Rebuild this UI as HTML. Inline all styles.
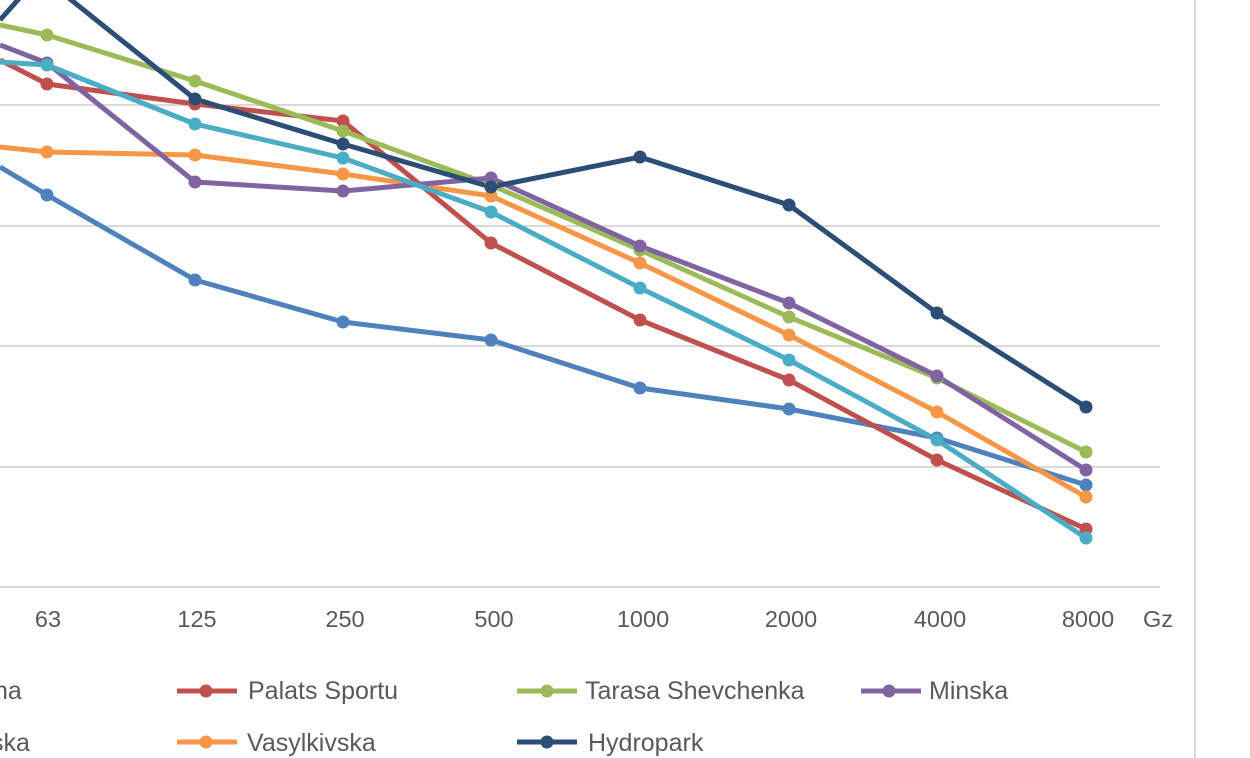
<!DOCTYPE html>
<html><head><meta charset="utf-8"><style>
html,body{margin:0;padding:0;background:#fff;}
svg{display:block;font-family:"Liberation Sans",sans-serif;}
</style></head><body>
<svg width="1250" height="758" viewBox="0 0 1250 758" xmlns="http://www.w3.org/2000/svg">
<rect width="1250" height="758" fill="#fff"/>
<line x1="1195" y1="0" x2="1195" y2="758" stroke="#d9d9d9" stroke-width="2"/>
<g stroke="#d9d9d9" stroke-width="2">
<line x1="0" y1="105" x2="1160" y2="105"/>
<line x1="0" y1="226" x2="1160" y2="226"/>
<line x1="0" y1="346" x2="1160" y2="346"/>
<line x1="0" y1="467" x2="1160" y2="467"/>
<line x1="0" y1="587" x2="1160" y2="587"/>
</g>
<g font-size="23.5" fill="#595959" text-anchor="middle">
<text x="48" y="627">63</text><text x="197" y="627">125</text><text x="345" y="627">250</text><text x="494" y="627">500</text><text x="643" y="627">1000</text><text x="791" y="627">2000</text><text x="940" y="627">4000</text><text x="1088" y="627">8000</text><text x="1158" y="627">Gz</text>
</g>
<g fill="none" stroke-width="5" stroke-linejoin="round">
<polyline stroke="#4F81BD" points="0,167 47,195 195,280 343,322 491,340 640,388 789,409 937,438 1086,485"/>
<polyline stroke="#F79646" points="0,147 47,152 195,155 343,174 491,196 640,263 789,335 937,412 1086,497"/>
<polyline stroke="#C0504D" points="0,60 47,84 195,104 343,121 491,243 640,320 789,380 937,460 1086,529"/>
<polyline stroke="#9BBB59" points="0,25 47,35 195,81 343,131 491,185 640,250 789,317 937,378 1086,452"/>
<polyline stroke="#8064A2" points="0,45 47,63 195,182 343,191 491,178 640,246 789,303 937,376 1086,470"/>
<polyline stroke="#4BACC6" points="0,62 47,65 195,124 343,158 491,212 640,288 789,360 937,440 1086,538"/>
<polyline stroke="#2C4D75" points="0,20 40,-25 195,99 343,144 491,187 640,157 789,205 937,313 1086,407"/>
</g>
<g>
<g fill="#4F81BD"><circle cx="47" cy="195" r="6.5"/><circle cx="195" cy="280" r="6.5"/><circle cx="343" cy="322" r="6.5"/><circle cx="491" cy="340" r="6.5"/><circle cx="640" cy="388" r="6.5"/><circle cx="789" cy="409" r="6.5"/><circle cx="937" cy="438" r="6.5"/><circle cx="1086" cy="485" r="6.5"/></g>
<g fill="#F79646"><circle cx="47" cy="152" r="6.5"/><circle cx="195" cy="155" r="6.5"/><circle cx="343" cy="174" r="6.5"/><circle cx="491" cy="196" r="6.5"/><circle cx="640" cy="263" r="6.5"/><circle cx="789" cy="335" r="6.5"/><circle cx="937" cy="412" r="6.5"/><circle cx="1086" cy="497" r="6.5"/></g>
<g fill="#C0504D"><circle cx="47" cy="84" r="6.5"/><circle cx="195" cy="104" r="6.5"/><circle cx="343" cy="121" r="6.5"/><circle cx="491" cy="243" r="6.5"/><circle cx="640" cy="320" r="6.5"/><circle cx="789" cy="380" r="6.5"/><circle cx="937" cy="460" r="6.5"/><circle cx="1086" cy="529" r="6.5"/></g>
<g fill="#9BBB59"><circle cx="47" cy="35" r="6.5"/><circle cx="195" cy="81" r="6.5"/><circle cx="343" cy="131" r="6.5"/><circle cx="491" cy="185" r="6.5"/><circle cx="640" cy="250" r="6.5"/><circle cx="789" cy="317" r="6.5"/><circle cx="937" cy="378" r="6.5"/><circle cx="1086" cy="452" r="6.5"/></g>
<g fill="#8064A2"><circle cx="47" cy="63" r="6.5"/><circle cx="195" cy="182" r="6.5"/><circle cx="343" cy="191" r="6.5"/><circle cx="491" cy="178" r="6.5"/><circle cx="640" cy="246" r="6.5"/><circle cx="789" cy="303" r="6.5"/><circle cx="937" cy="376" r="6.5"/><circle cx="1086" cy="470" r="6.5"/></g>
<g fill="#4BACC6"><circle cx="47" cy="65" r="6.5"/><circle cx="195" cy="124" r="6.5"/><circle cx="343" cy="158" r="6.5"/><circle cx="491" cy="212" r="6.5"/><circle cx="640" cy="288" r="6.5"/><circle cx="789" cy="360" r="6.5"/><circle cx="937" cy="440" r="6.5"/><circle cx="1086" cy="538" r="6.5"/></g>
<g fill="#2C4D75"><circle cx="195" cy="99" r="6.5"/><circle cx="343" cy="144" r="6.5"/><circle cx="491" cy="187" r="6.5"/><circle cx="640" cy="157" r="6.5"/><circle cx="789" cy="205" r="6.5"/><circle cx="937" cy="313" r="6.5"/><circle cx="1086" cy="407" r="6.5"/></g>
</g>
<g font-size="25" fill="#595959">
<text x="-6" y="699">na</text>
<line x1="177" y1="691" x2="237" y2="691" stroke="#C0504D" stroke-width="5"/><circle cx="206" cy="691" r="6.5" fill="#C0504D"/><text x="248" y="699">Palats Sportu</text>
<line x1="517" y1="691" x2="577" y2="691" stroke="#9BBB59" stroke-width="5"/><circle cx="547" cy="691" r="6.5" fill="#9BBB59"/><text x="585" y="699">Tarasa Shevchenka</text>
<line x1="861" y1="691" x2="921" y2="691" stroke="#8064A2" stroke-width="5"/><circle cx="889" cy="691" r="6.5" fill="#8064A2"/><text x="929" y="699">Minska</text>
<text x="-9" y="751">ska</text>
<line x1="177" y1="742" x2="237" y2="742" stroke="#F79646" stroke-width="5"/><circle cx="206" cy="742" r="6.5" fill="#F79646"/><text x="247" y="751">Vasylkivska</text>
<line x1="517" y1="742" x2="577" y2="742" stroke="#2C4D75" stroke-width="5"/><circle cx="547" cy="742" r="6.5" fill="#2C4D75"/><text x="588" y="751">Hydropark</text>
</g>
</svg>
</body></html>
